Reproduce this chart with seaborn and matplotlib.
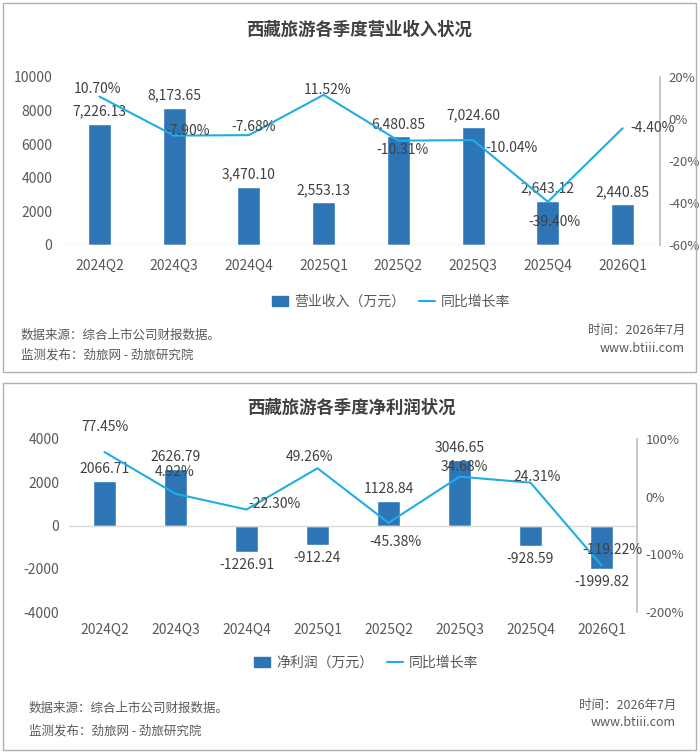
import numpy as np
import matplotlib
matplotlib.use("Agg")
import matplotlib.pyplot as plt
import seaborn as sns
from matplotlib.patches import Rectangle, Patch
from matplotlib.lines import Line2D

# data
quarters = ["2024Q2", "2024Q3", "2024Q4", "2025Q1", "2025Q2", "2025Q3", "2025Q4", "2026Q1"]
revenue = [7226.13, 8173.65, 3470.10, 2553.13, 6480.85, 7024.60, 2643.12, 2440.85]
revenue_yoy = [10.70, -7.90, -7.68, 11.52, -10.31, -10.04, -39.40, -4.40]
profit = [2066.71, 2626.79, -1226.91, -912.24, 1128.84, 3046.65, -928.59, -1999.82]
profit_yoy = [77.45, 4.92, -22.30, 49.26, -45.38, 34.68, 24.31, -119.22]

# label nudges for the growth labels (pixels, y up)
rev_yoy_off = [(-2, 8), (13, 5), (5, 8), (4, 5), (4, -9), (38, -8), (7, -20), (30, 0)]
pro_yoy_off = [(0, 25), (-1, 22), (28, 6), (-8, 11), (7, -19), (5, 10), (7, 6), (11, 15)]

BAR = "#2E75B6"
LINE = "#1FADE6"
TXT = "#404040"
GREY = "#595959"

sns.set_theme(style="white")
plt.rcParams["font.family"] = ["Noto Sans CJK SC", "DejaVu Sans"]
plt.rcParams["axes.unicode_minus"] = False

W, H = 700, 753
fig = plt.figure(figsize=(7, 7.53), dpi=100)
PT = 0.72  # pixels -> points


def px_axes(left, top, right, bottom):
    return fig.add_axes([left / W, 1 - bottom / H, (right - left) / W, (bottom - top) / H])


def panel(box, ylim, yticks, y2lim, y2ticks, bars, growth, offs, fmt, bar_name, title, title_y,
          xpad, legend_xy, foot_y, foot_x):
    ax = px_axes(*box)
    sns.barplot(x=quarters, y=bars, ax=ax, color=BAR, width=0.31, saturation=1)
    ax.set_ylim(*ylim)
    ax.set_yticks(yticks)
    ax.set_yticklabels([f"{t:d}" for t in yticks])
    ax.axhline(0, color="#D9D9D9", lw=1, zorder=1)
    for s in ax.spines.values():
        s.set_visible(False)
    ax.tick_params(axis="both", length=0, labelsize=10, colors=GREY)
    ax.tick_params(axis="y", pad=7)
    ax.tick_params(axis="x", pad=xpad)
    ax.set_xlabel("")
    ax.set_ylabel("")

    for i, v in enumerate(bars):
        off = 12 if v >= 0 else -13
        ax.annotate(fmt(v), (i, v), xytext=(0, off * PT), textcoords="offset points",
                    ha="center", va="center", fontsize=10, color=TXT)

    ax2 = ax.twinx()
    sns.lineplot(x=np.arange(len(quarters)), y=growth, ax=ax2, color=LINE, lw=1.5, sort=False)
    ax2.set_ylim(*y2lim)
    ax2.set_yticks(y2ticks)
    ax2.set_yticklabels([f"{t:d}%" for t in y2ticks])
    ax2.set_xlim(-0.5, len(quarters) - 0.5)
    for name, s in ax2.spines.items():
        s.set_visible(name == "right")
    ax2.spines["right"].set_color("#BFBFBF")
    ax2.tick_params(axis="y", length=0, labelsize=9.5, colors=GREY, pad=6)
    ax2.set_ylabel("")
    for i, (g, (dx, dy)) in enumerate(zip(growth, offs)):
        ax2.annotate(f"{g:.2f}%", (i, g), xytext=(dx * PT, dy * PT), textcoords="offset points",
                     ha="center", va="center", fontsize=10, color=TXT)

    fig.text(box[0] / W + (box[2] - box[0]) / W / 2 - 0.003, 1 - title_y / H, title,
             ha="center", va="center", fontsize=12.5, fontweight="bold", color=TXT)

    handles = [Patch(color=BAR), Line2D([], [], color=LINE, lw=1.5)]
    fig.legend(handles, [bar_name, "同比增长率"], loc="center",
               bbox_to_anchor=(legend_xy[0] / W, 1 - legend_xy[1] / H), ncol=2, frameon=False,
               fontsize=10, labelcolor=GREY, handlelength=1.2, handleheight=0.8,
               handletextpad=0.4, columnspacing=1.0)

    fig.text(foot_x[0] / W, 1 - foot_y[0] / H, "数据来源：综合上市公司财报数据。",
             ha="left", va="center", fontsize=9, color=GREY)
    fig.text(foot_x[0] / W, 1 - foot_y[1] / H, "监测发布：劲旅网 - 劲旅研究院",
             ha="left", va="center", fontsize=9, color=GREY)
    fig.text(foot_x[1] / W, 1 - foot_y[2] / H, "时间：2026年7月",
             ha="right", va="center", fontsize=9, color=GREY)
    fig.text(foot_x[1] / W, 1 - foot_y[3] / H, "www.btiii.com",
             ha="right", va="center", fontsize=9, color=GREY)


panel((62, 77, 660, 245), (0, 10000), list(range(0, 10001, 2000)),
      (-60, 20), list(range(20, -61, -20)), revenue, revenue_yoy, rev_yoy_off,
      lambda v: f"{v:,.2f}", "营业收入（万元）", "西藏旅游各季度营业收入状况", 30,
      10, (391, 302), (335, 355, 330, 348), (21, 685))

panel((69, 439, 637, 612), (-4000, 4000), list(range(-4000, 4001, 2000)),
      (-200, 100), list(range(100, -201, -100)), profit, profit_yoy, pro_yoy_off,
      lambda v: f"{v:.2f}", "净利润（万元）", "西藏旅游各季度净利润状况", 408,
      8, (366, 663), (708, 731, 705, 723), (29, 676))

for (x0, y0, x1, y1) in [(3, 3, 696, 372), (3, 383, 696, 750)]:
    fig.patches.append(Rectangle((x0 / W, 1 - y1 / H), (x1 - x0) / W, (y1 - y0) / H,
                                 transform=fig.transFigure, fill=False,
                                 edgecolor="#B0B0B0", lw=1))

fig.savefig("out.png", dpi=100, facecolor="white")
